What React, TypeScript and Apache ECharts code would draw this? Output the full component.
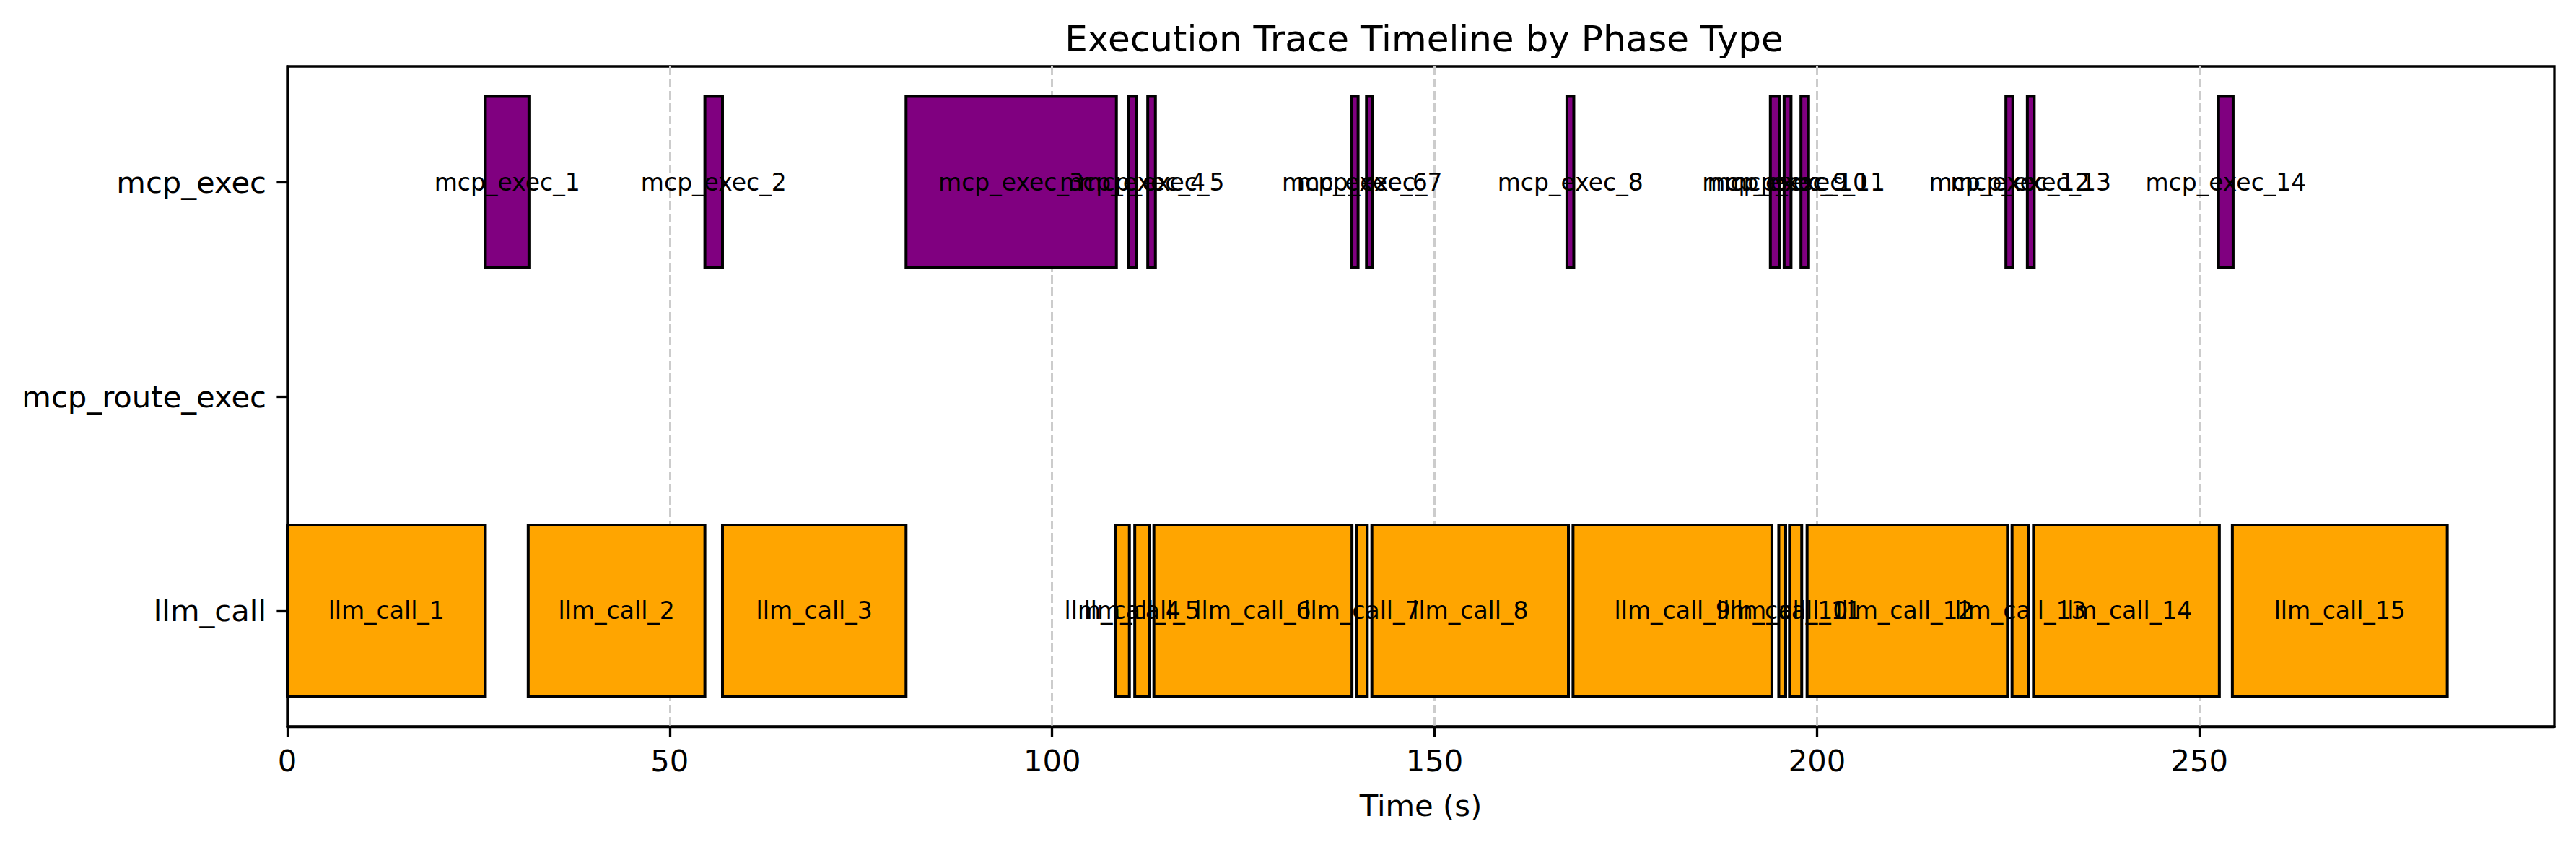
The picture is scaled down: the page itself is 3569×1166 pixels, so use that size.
import React, { useEffect, useRef } from "react";
import * as echarts from "echarts";

const categories = ["llm_call", "mcp_route_exec", "mcp_exec"];
const xTicks = [0, 50, 100, 150, 200, 250];

const llmLabels = Array.from({ length: 15 }, (_, i) => `llm_call_${i + 1}`);
const llmStart = [0, 31.5, 56.9, 108.3, 110.8, 113.3, 139.8, 141.8, 168.1, 195.0, 196.4, 198.7, 225.5, 228.3, 254.3];
const llmEnd = [25.9, 54.6, 80.9, 110.1, 112.7, 139.2, 141.2, 167.5, 194.1, 195.9, 198.0, 224.9, 227.7, 252.6, 282.4];

const mcpLabels = Array.from({ length: 14 }, (_, i) => `mcp_exec_${i + 1}`);
const mcpStart = [25.9, 54.6, 80.9, 110.0, 112.5, 139.1, 141.1, 167.3, 193.9, 195.7, 197.9, 224.7, 227.5, 252.5];
const mcpEnd = [31.6, 56.9, 108.4, 111.0, 113.5, 140.0, 141.9, 168.2, 195.1, 196.6, 198.9, 225.6, 228.4, 254.4];

const FONT = "DejaVu Sans";

function buildData(starts: number[], ends: number[], cat: number) {
  return starts.map((s, i) => [s, ends[i], cat]);
}

function renderBar(color: string, labels: string[]) {
  return (params: any, api: any) => {
    const s = api.value(0);
    const e = api.value(1);
    const c = api.value(2);
    const p0 = api.coord([s, c]);
    const p1 = api.coord([e, c]);
    const h = api.size([0, 0.8])[1];
    const label = labels[params.dataIndex] ?? "";
    return {
      type: "group",
      children: [
        {
          type: "rect",
          shape: { x: p0[0], y: p0[1] - h / 2, width: p1[0] - p0[0], height: h },
          style: { fill: color, stroke: "#000", lineWidth: 4 },
          z2: 1,
        },
        {
          type: "text",
          x: (p0[0] + p1[0]) / 2,
          y: p0[1],
          z2: 100,
          style: {
            text: label,
            fill: "#000",
            fontFamily: FONT,
            fontSize: 33,
            align: "center",
            verticalAlign: "middle",
          },
        },
      ],
    };
  };
}

export default function App() {
  const ref = useRef<HTMLDivElement>(null);
  useEffect(() => {
    if (!ref.current) return;
    const chart = echarts.init(ref.current, undefined, { renderer: "svg" });
    chart.setOption({
      animation: false,
      backgroundColor: "#fff",
      title: {
        text: "Execution Trace Timeline by Phase Type",
        left: 1968,
        top: 24,
        textAlign: "center",
        textStyle: { fontFamily: FONT, fontSize: 50, fontWeight: "normal", color: "#000" },
      },
      grid: {
        left: 398,
        right: 30,
        top: 92,
        bottom: 160,
        show: true,
        borderColor: "#000",
        borderWidth: 3.3,
        backgroundColor: "transparent",
      },
      xAxis: {
        type: "value",
        min: 0,
        max: 296.4,
        interval: 50,
        name: "Time (s)",
        nameLocation: "middle",
        nameGap: 88,
        nameTextStyle: { fontFamily: FONT, fontSize: 41.7, color: "#000" },
        axisLine: { show: true, onZero: false, lineStyle: { color: "#000", width: 3.3 } },
        axisTick: { show: true, inside: false, length: 14.6, customValues: xTicks, lineStyle: { color: "#000", width: 3.3 } },
        axisLabel: {
          customValues: xTicks,
          margin: 26,
          fontFamily: FONT,
          fontSize: 41.7,
          color: "#000",
        },
        splitLine: {
          show: true,
          lineStyle: { color: "#cccccc", width: 3, type: [12, 5] },
        },
      },
      yAxis: {
        type: "value",
        min: -0.54,
        max: 2.54,
        axisLine: { show: true, onZero: false, lineStyle: { color: "#000", width: 3.3 } },
        axisTick: { show: true, inside: false, length: 14.6, customValues: [0, 1, 2], lineStyle: { color: "#000", width: 3.3 } },
        axisLabel: {
          customValues: [0, 1, 2],
          formatter: (v: number) => categories[Math.round(v)] ?? "",
          margin: 29,
          fontFamily: FONT,
          fontSize: 41.7,
          color: "#000",
        },
        splitLine: { show: false },
      },
      series: [
        {
          type: "custom",
          name: "llm_call",
          renderItem: renderBar("#FFA500", llmLabels),
          encode: { x: [0, 1], y: 2 },
          data: buildData(llmStart, llmEnd, 0),
          clip: false,
        },
        {
          type: "custom",
          name: "mcp_exec",
          renderItem: renderBar("#800080", mcpLabels),
          encode: { x: [0, 1], y: 2 },
          data: buildData(mcpStart, mcpEnd, 2),
          clip: false,
        },
      ],
    });
    return () => chart.dispose();
  }, []);
  return (
    <div
      ref={ref}
      style={{ position: "fixed", left: 0, top: 0, width: 3569, height: 1166, background: "#fff" }}
    />
  );
}
